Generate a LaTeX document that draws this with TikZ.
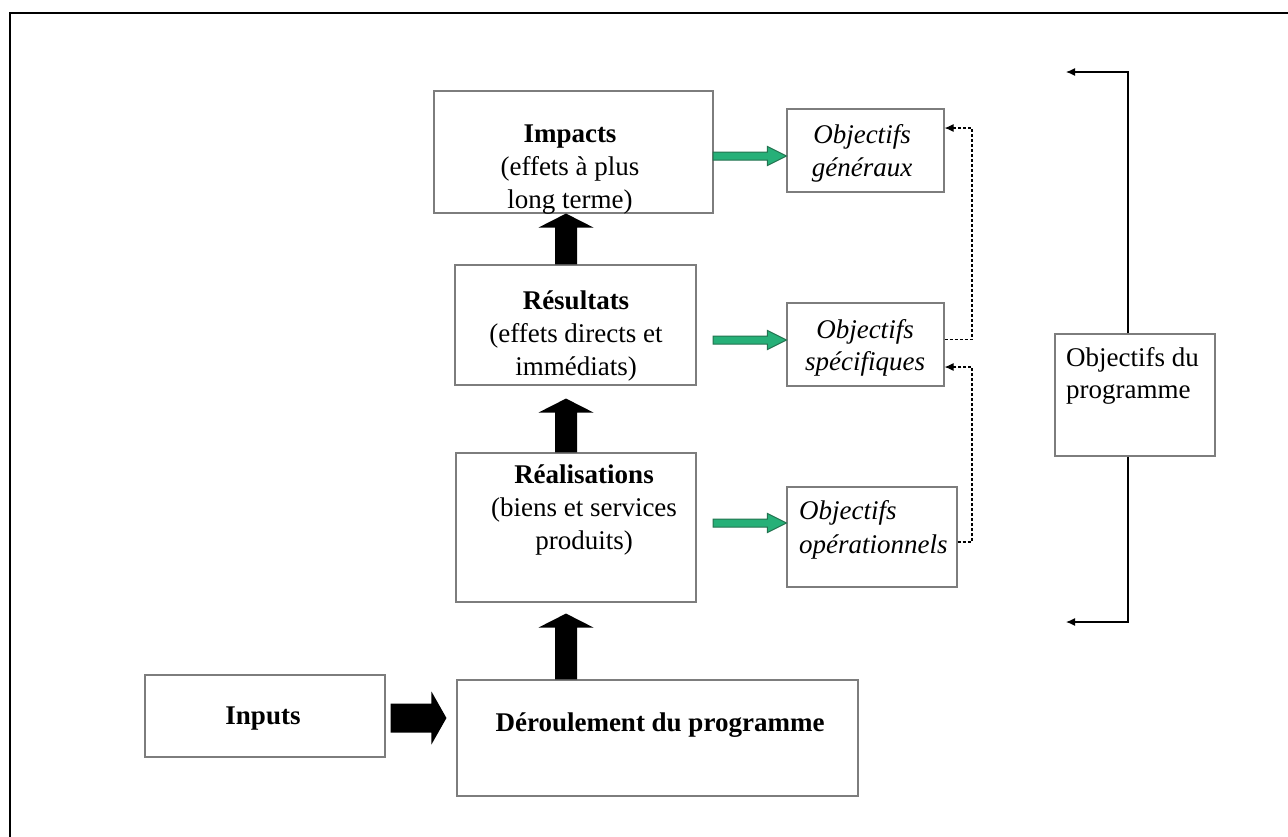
\documentclass[tikz,border=0pt]{standalone}
\usepackage{fontspec}
\setmainfont{Liberation Serif}
\usetikzlibrary{calc,arrows.meta}
\definecolor{boxgray}{RGB}{125,125,125}
\definecolor{arrowgreen}{RGB}{38,176,120}
\definecolor{arrowgreendark}{RGB}{35,115,80}
% vertical block arrow pointing up: #1 style, #2 base, #3 tip
\newcommand\UpBlock[3]{%
  \filldraw[#1] ($(#2)+(-11,0)$) -- ($(#3)+(-11,14)$) -- ($(#3)+(-27.5,14)$) -- (#3)
    -- ($(#3)+(27.5,14)$) -- ($(#3)+(11,14)$) -- ($(#2)+(11,0)$) -- cycle;}
% horizontal block arrow pointing right: #1 style, #2 base, #3 tip, #4 shaft half, #5 head half, #6 head length
\newcommand\RightBlock[6]{%
  \filldraw[#1] ($(#2)+(0,-#4)$) -- ($(#3)+(-#6,-#4)$) -- ($(#3)+(-#6,-#5)$) -- (#3)
    -- ($(#3)+(-#6,#5)$) -- ($(#3)+(-#6,#4)$) -- ($(#2)+(0,#4)$) -- cycle;}
\begin{document}
\begin{tikzpicture}[x=1pt,y=-1pt,
  box/.style={draw=boxgray,line width=1.1pt,inner sep=0pt},
  lbl/.style={font=\fontsize{27}{33}\selectfont,inner sep=0pt,align=center},
  blackarrow/.style={fill=black,draw=none},
  greenarrow/.style={fill=arrowgreen,draw=arrowgreendark,line width=1pt},
  dashlink/.style={dash pattern=on 3pt off 2pt,line width=1.1pt,-{Latex[length=9pt,width=8pt]}},
  bracketlink/.style={line width=1.2pt,-{Latex[length=9pt,width=8pt]}}]
\useasboundingbox (0,0) rectangle (1288,836);
\draw[line width=2pt] (10,845) -- (10,13) -- (1295,13);

% boxes
\node[box,minimum width=279pt,minimum height=122pt] (imp) at (573.5,152) {};
\node[box,minimum width=241pt,minimum height=120pt] (res) at (575.5,325) {};
\node[box,minimum width=240pt,minimum height=149pt] (rea) at (576,527.5) {};
\node[box,minimum width=401pt,minimum height=116pt] (der) at (657.5,738) {};
\node[box,minimum width=240pt,minimum height=82pt] (inp) at (265,716) {};
\node[box,minimum width=157pt,minimum height=83pt] (gen) at (865.5,150.5) {};
\node[box,minimum width=157pt,minimum height=83pt] (spec) at (865.5,344.5) {};
\node[box,minimum width=170pt,minimum height=100pt] (oper) at (872,537) {};
\node[box,minimum width=160pt,minimum height=122pt] (prog) at (1135,395) {};

% texts
\node[lbl] (timp) at (570,170) {\textbf{Impacts}\\(effets à plus\\long terme)};
\node[lbl] (tres) at (576,336) {\textbf{Résultats}\\(effets directs et\\immédiats)};
\node[lbl] (trea) at (584,510) {\textbf{Réalisations}\\(biens et services\\produits)};
\node[lbl] (tder) at (660,725) {\textbf{Déroulement du programme}};
\node[lbl] (tinp) at (263,719) {\textbf{Inputs}};
\node[lbl,font=\fontsize{27}{33}\selectfont\itshape] (tgen) at (862,153) {Objectifs\\généraux};
\node[lbl,font=\fontsize{27}{32}\selectfont\itshape] (tspec) at (865,348) {Objectifs\\spécifiques};
\node[lbl,font=\fontsize{27}{34}\selectfont\itshape,align=left,anchor=west] (toper) at (799,530) {Objectifs\\opérationnels};
\node[lbl,font=\fontsize{27}{32}\selectfont,align=left,anchor=west] (tprog) at (1066,376) {Objectifs du\\programme};

% black block arrows
\coordinate (ax) at (566,0);
\path (res.north -| ax) coordinate (a1b) (imp.south -| ax) coordinate (a1t);
\path (rea.north -| ax) coordinate (a2b) ($(res.south -| ax)+(0,13)$) coordinate (a2t);
\path (der.north -| ax) coordinate (a3b) ($(rea.south -| ax)+(0,11)$) coordinate (a3t);
\UpBlock{blackarrow}{a1b}{a1t}
\UpBlock{blackarrow}{a2b}{a2t}
\UpBlock{blackarrow}{a3b}{a3t}
\path ($(inp.east)+(5,2)$) coordinate (hb);
\path (hb -| der.west) ++(-10,0) coordinate (ht);
\RightBlock{blackarrow}{hb}{ht}{14.5}{26.5}{15}

% green arrows
\coordinate (g1b) at (713,156);
\coordinate (g2b) at (713,340);
\coordinate (g3b) at (713,523);
\path (g1b -| gen.west) coordinate (g1t);
\path (g2b -| spec.west) coordinate (g2t);
\path (g3b -| oper.west) coordinate (g3t);
\RightBlock{greenarrow}{g1b}{g1t}{4}{9.5}{19}
\RightBlock{greenarrow}{g2b}{g2t}{4}{9.5}{19}
\RightBlock{greenarrow}{g3b}{g3t}{4}{9.5}{19}

% dashed links
\coordinate (dx) at (972,0);
\path ($(spec.east)+(0,-5)$) coordinate (d1s) ($(gen.east)+(0,-22.5)$) coordinate (d1t);
\draw[dashlink] (d1s) -- (d1s -| dx) |- (d1t);
\path ($(oper.east)+(0,5)$) coordinate (d2s) ($(spec.east)+(0,22.5)$) coordinate (d2t);
\draw[dashlink] (d2s) -- (d2s -| dx) |- (d2t);

% bracket
\coordinate (bx) at (1128,0);
\coordinate (btop) at (1066,72);
\coordinate (bbot) at (1066,622);
\draw[bracketlink] (prog.north -| bx) |- (btop);
\draw[bracketlink] (prog.south -| bx) |- (bbot);
\end{tikzpicture}
\end{document}
